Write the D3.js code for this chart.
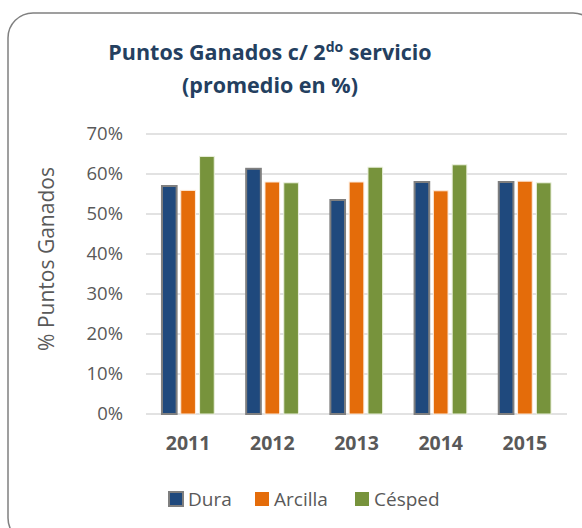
<!DOCTYPE html>
<html lang="es">
<head>
<meta charset="UTF-8">
<title>Puntos Ganados</title>
<script src="https://d3js.org/d3.v7.min.js"></script>
<style>
    body { margin: 0; background: #fff; }
    svg text { font-family: "Open Sans", "Noto Sans", sans-serif; }
</style>
</head>
<body>
<svg id="chart" width="582" height="528"></svg>
<script>
const years = ["2011", "2012", "2013", "2014", "2015"];
const series = ["Dura", "Arcilla", "Césped"];
const dura = [0.57, 0.613, 0.535, 0.58, 0.58];
const arcilla = [0.559, 0.58, 0.58, 0.558, 0.582];
const cesped = [0.644, 0.578, 0.617, 0.623, 0.578];
const yTicks = [0, 0.1, 0.2, 0.3, 0.4, 0.5, 0.6, 0.7];

const colors = { "Dura": "#1F497D", "Arcilla": "#E46C0A", "Césped": "#77933C" };
const strokes = { "Dura": "#7f7f7f", "Arcilla": "#fde9d9", "Césped": "#ebf1de" };

const data = years.map((y, i) => ({
    year: y,
    values: [
        { key: "Dura", value: dura[i] },
        { key: "Arcilla", value: arcilla[i] },
        { key: "Césped", value: cesped[i] }
    ]
}));

const svg = d3.select("#chart");

// outer frame
svg.append("rect")
    .attr("x", 8).attr("y", 13)
    .attr("width", 590).attr("height", 530)
    .attr("rx", 25).attr("ry", 25)
    .attr("fill", "#fff")
    .attr("stroke", "#808080")
    .attr("stroke-width", 1.5);

// title
const title = svg.append("text")
    .attr("x", 270).attr("y", 60)
    .attr("text-anchor", "middle")
    .attr("fill", "#243F60")
    .style("font-size", "21.5px")
    .style("font-weight", "bold");
title.append("tspan").text("Puntos Ganados c/ 2");
title.append("tspan").attr("dy", -8).style("font-size", "14px").text("do");
title.append("tspan").attr("dy", 8).text(" servicio");

svg.append("text")
    .attr("x", 270).attr("y", 93)
    .attr("text-anchor", "middle")
    .attr("fill", "#243F60")
    .style("font-size", "21.5px")
    .style("font-weight", "bold")
    .text("(promedio en %)");

const plotLeft = 146, plotRight = 567, plotTop = 134, plotBottom = 414;

const x0 = d3.scaleBand()
    .domain(years)
    .range([plotLeft, plotRight])
    .paddingInner(0.33)
    .paddingOuter(0.165);

const x1 = d3.scaleBand()
    .domain(series)
    .range([0, x0.bandwidth()])
    .paddingInner(0.22)
    .paddingOuter(0.11);

const y = d3.scaleLinear().domain([0, 0.7]).range([plotBottom, plotTop]);

// grid
svg.append("g")
    .selectAll("line")
    .data(yTicks)
    .enter().append("line")
    .attr("x1", plotLeft).attr("x2", plotRight)
    .attr("y1", d => y(d)).attr("y2", d => y(d))
    .attr("stroke", "#d9d9d9")
    .attr("stroke-width", 1.5);

const yAxis = d3.axisLeft(y)
    .tickValues(yTicks)
    .tickFormat(d3.format(".0%"))
    .tickSize(0)
    .tickPadding(23);

const gy = svg.append("g")
    .attr("transform", `translate(${plotLeft},0)`)
    .call(yAxis);
gy.select(".domain").remove();
gy.selectAll("text")
    .attr("fill", "#595959")
    .style("font-size", "18.5px");

// bars
svg.append("g")
    .selectAll("g")
    .data(data)
    .enter().append("g")
    .attr("transform", d => `translate(${x0(d.year)},0)`)
    .selectAll("rect")
    .data(d => d.values)
    .enter().append("rect")
    .attr("x", d => x1(d.key))
    .attr("y", d => y(d.value))
    .attr("width", x1.bandwidth())
    .attr("height", d => plotBottom - y(d.value))
    .attr("fill", d => colors[d.key])
    .attr("stroke", d => strokes[d.key])
    .attr("stroke-width", d => d.key === "Dura" ? 2 : 1);

// x axis labels
const xAxis = d3.axisBottom(x0).tickSize(0).tickPadding(22);
const gx = svg.append("g")
    .attr("transform", `translate(0,${plotBottom})`)
    .call(xAxis);
gx.select(".domain").remove();
gx.selectAll("text")
    .attr("fill", "#595959")
    .style("font-size", "19.5px")
    .style("font-weight", "bold");

// y axis title
svg.append("text")
    .attr("transform", "rotate(-90)")
    .attr("x", -259)
    .attr("y", 54)
    .attr("text-anchor", "middle")
    .attr("fill", "#595959")
    .style("font-size", "21px")
    .text("% Puntos Ganados");

// legend
const legendX = [169, 255, 355];
const legend = svg.append("g")
    .selectAll("g")
    .data(series)
    .enter().append("g")
    .attr("transform", (d, i) => `translate(${legendX[i]},492)`);

legend.append("rect")
    .attr("width", 14).attr("height", 14)
    .attr("fill", d => colors[d])
    .attr("stroke", d => d === "Dura" ? "#7f7f7f" : "none")
    .attr("stroke-width", 2);

legend.append("text")
    .attr("x", 19).attr("y", 14)
    .attr("fill", "#595959")
    .style("font-size", "19px")
    .text(d => d);
</script>
</body>
</html>
